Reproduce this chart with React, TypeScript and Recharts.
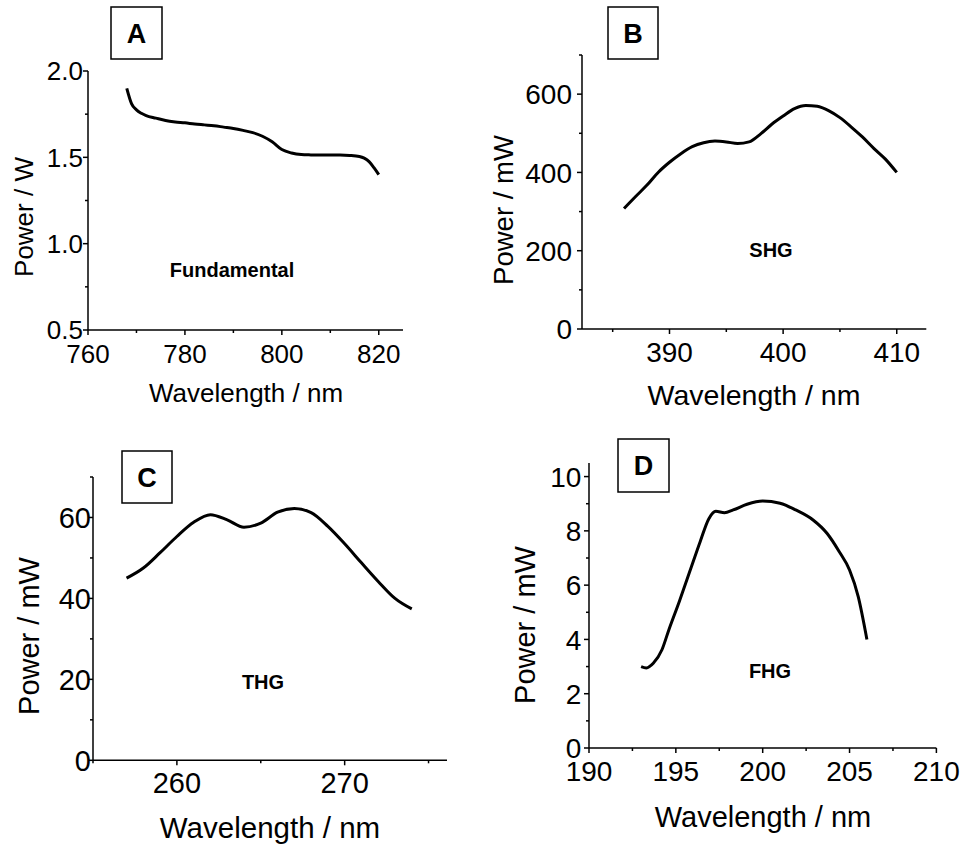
import React from "react"
import { LineChart, Line, XAxis, YAxis } from "recharts"

// Panel A - fundamental
const fundWl = [768, 769, 770, 771, 772, 774, 776, 778, 780, 782, 784, 786, 788, 790, 792, 794, 796, 798, 800, 802, 804, 806, 808, 810, 812, 814, 816, 817, 818, 819, 820]
const fundPower = [1.9, 1.81, 1.775, 1.755, 1.742, 1.727, 1.713, 1.705, 1.7, 1.693, 1.688, 1.683, 1.675, 1.667, 1.656, 1.643, 1.622, 1.59, 1.545, 1.525, 1.516, 1.514, 1.513, 1.513, 1.513, 1.511, 1.505, 1.495, 1.475, 1.44, 1.4]

// Panel B - SHG
const shgWl = [386, 387, 388, 389, 390, 391, 392, 393, 394, 395, 396, 397, 398, 399, 400, 401, 402, 403, 404, 405, 406, 407, 408, 409, 410]
const shgPower = [308, 338, 367, 400, 426, 448, 466, 476, 480, 478, 474, 478, 498, 523, 544, 563, 571, 569, 558, 540, 516, 490, 461, 434, 400]

// Panel C - THG
const thgWl = [257, 258, 259, 260, 261, 262, 263, 264, 265, 266, 267, 268, 269, 270, 271, 272, 273, 274]
const thgPower = [45, 47.5, 51.3, 55.3, 58.8, 60.7, 59.4, 57.6, 58.6, 61.3, 62.2, 61.2, 57.8, 53.5, 48.8, 44.2, 40, 37.4]

// Panel D - FHG
const fhgWl = [193, 193.3, 193.7, 194.2, 194.6, 195.2, 195.8, 196.4, 196.9, 197.3, 197.8, 198.3, 199.1, 200, 201, 201.9, 202.9, 203.7, 204.4, 205, 205.5, 206]
const fhgPower = [3.0, 2.95, 3.12, 3.62, 4.36, 5.4, 6.5, 7.6, 8.45, 8.72, 8.67, 8.77, 8.98, 9.1, 9.02, 8.77, 8.4, 7.91, 7.24, 6.56, 5.58, 4.0]

const FONT = '"Liberation Sans", Arial, Helvetica, sans-serif'

const zip = (xs: number[], ys: number[]) => xs.map((x, i) => ({ wl: x, p: ys[i] }))

type Cfg = {
  data: { wl: number; p: number }[]
  box: [number, number, number, number]
  xDomain: [number, number]
  yDomain: [number, number]
  xMajor: number[]
  xMinor: number[]
  yMajor: number[]
  yMinor: number[]
  fs: number
  yGap: number
  yFmt: (v: number) => string
}

const panels: Cfg[] = [
  {
    data: zip(fundWl, fundPower),
    box: [88, 71, 403, 330],
    xDomain: [760, 825],
    yDomain: [0.5, 2.0],
    xMajor: [760, 780, 800, 820],
    xMinor: [770, 790, 810],
    yMajor: [0.5, 1.0, 1.5, 2.0],
    yMinor: [0.75, 1.25, 1.75],
    fs: 26,
    yGap: 5,
    yFmt: (v) => v.toFixed(1),
  },
  {
    data: zip(shgWl, shgPower),
    box: [581.7, 55, 926, 329],
    xDomain: [382.3, 412.6],
    yDomain: [0, 700],
    xMajor: [390, 400, 410],
    xMinor: [385, 395, 405],
    yMajor: [0, 200, 400, 600],
    yMinor: [100, 300, 500, 700],
    fs: 28,
    yGap: 10,
    yFmt: (v) => String(v),
  },
  {
    data: zip(thgWl, thgPower),
    box: [93.3, 476.7, 447.3, 760],
    xDomain: [255, 276.1],
    yDomain: [0, 70],
    xMajor: [260, 270],
    xMinor: [255, 265, 275],
    yMajor: [0, 20, 40, 60],
    yMinor: [10, 30, 50, 70],
    fs: 29,
    yGap: 2,
    yFmt: (v) => String(v),
  },
  {
    data: zip(fhgWl, fhgPower),
    box: [589.3, 463.3, 936.7, 748.3],
    xDomain: [190, 210],
    yDomain: [0, 10.5],
    xMajor: [190, 195, 200, 205, 210],
    xMinor: [192.5, 197.5, 202.5, 207.5],
    yMajor: [0, 2, 4, 6, 8, 10],
    yMinor: [1, 3, 5, 7, 9],
    fs: 28,
    yGap: 7.6,
    yFmt: (v) => String(v),
  },
]

const YW = 80
const MT = 30
const MR = 40
const XH = 60

function Panel({ cfg }: { cfg: Cfg }) {
  const [x0, y0, x1, y1] = cfg.box
  const w = YW + (x1 - x0) + MR
  const h = MT + (y1 - y0) + XH

  const xTick = (p: any) => {
    const v = p.payload.value
    const major = cfg.xMajor.includes(v)
    return (
      <g>
        <line x1={p.x} y1={p.y} x2={p.x} y2={p.y + (major ? 5 : 3)} stroke="#000" strokeWidth={1.5} />
        {major && (
          <text x={p.x} y={p.y + 33} textAnchor="middle" fontSize={cfg.fs} fontFamily={FONT} fill="#000">
            {v}
          </text>
        )}
      </g>
    )
  }

  const yTick = (p: any) => {
    const v = p.payload.value
    const major = cfg.yMajor.includes(v)
    return (
      <g>
        <line x1={p.x - (major ? 5 : 3)} y1={p.y} x2={p.x} y2={p.y} stroke="#000" strokeWidth={1.5} />
        {major && (
          <text x={p.x - cfg.yGap} y={p.y} dy="0.36em" textAnchor="end" fontSize={cfg.fs} fontFamily={FONT} fill="#000">
            {cfg.yFmt(v)}
          </text>
        )}
      </g>
    )
  }

  return (
    <div style={{ position: "absolute", left: x0 - YW, top: y0 - MT }}>
      <LineChart width={w} height={h} data={cfg.data} margin={{ top: MT, right: MR, left: 0, bottom: 0 }}>
        <XAxis
          dataKey="wl"
          type="number"
          domain={cfg.xDomain}
          allowDataOverflow
          ticks={[...cfg.xMajor, ...cfg.xMinor].sort((a, b) => a - b)}
          interval={0}
          height={XH}
          tickSize={0}
          tickMargin={0}
          tickLine={false}
          axisLine={{ stroke: "#000", strokeWidth: 1.5 }}
          tick={xTick}
        />
        <YAxis
          type="number"
          domain={cfg.yDomain}
          allowDataOverflow
          ticks={[...cfg.yMajor, ...cfg.yMinor].sort((a, b) => a - b)}
          interval={0}
          width={YW}
          tickSize={0}
          tickMargin={0}
          tickLine={false}
          axisLine={{ stroke: "#000", strokeWidth: 1.5 }}
          tick={yTick}
        />
        <Line
          type="monotone"
          dataKey="p"
          stroke="#000"
          strokeWidth={3}
          dot={false}
          activeDot={false}
          isAnimationActive={false}
        />
      </LineChart>
    </div>
  )
}

const letterBoxes = [
  { t: "A", x: 111, y: 7, w: 51, h: 52 },
  { t: "B", x: 608, y: 7, w: 50, h: 52 },
  { t: "C", x: 122, y: 451, w: 50, h: 52 },
  { t: "D", x: 618, y: 439, w: 51, h: 53 },
]

const notes = [
  { t: "Fundamental", x: 232, y: 277 },
  { t: "SHG", x: 771, y: 257 },
  { t: "THG", x: 263, y: 689 },
  { t: "FHG", x: 770, y: 678 },
]

const xTitles = [
  { x: 246, y: 402, fs: 26 },
  { x: 754, y: 405, fs: 28.5 },
  { x: 270, y: 838, fs: 29.5 },
  { x: 763, y: 827, fs: 29 },
]

const yTitles = [
  { t: "Power / W", x: 33, y: 217, fs: 26 },
  { t: "Power / mW", x: 513, y: 210, fs: 27.5 },
  { t: "Power / mW", x: 39, y: 636, fs: 29 },
  { t: "Power / mW", x: 535, y: 625, fs: 29 },
]

export default function App() {
  return (
    <div style={{ position: "absolute", left: 0, top: 0, width: 964, height: 847, background: "#fff", fontFamily: FONT }}>
      {panels.map((c, i) => (
        <Panel key={i} cfg={c} />
      ))}
      <svg width={964} height={847} style={{ position: "absolute", left: 0, top: 0, pointerEvents: "none" }}>
        {letterBoxes.map((b) => (
          <g key={b.t}>
            <rect x={b.x} y={b.y} width={b.w} height={b.h} fill="#fff" stroke="#000" strokeWidth={1.5} />
            <text x={b.x + b.w / 2} y={b.y + b.h / 2} dy="0.36em" textAnchor="middle" fontSize={27} fontWeight="bold" fontFamily={FONT}>
              {b.t}
            </text>
          </g>
        ))}
        {notes.map((n) => (
          <text key={n.t} x={n.x} y={n.y} textAnchor="middle" fontSize={20} fontWeight="bold" fontFamily={FONT}>
            {n.t}
          </text>
        ))}
        {xTitles.map((t, i) => (
          <text key={i} x={t.x} y={t.y} textAnchor="middle" fontSize={t.fs} fontFamily={FONT}>
            Wavelength / nm
          </text>
        ))}
        {yTitles.map((t, i) => (
          <text key={i} x={t.x} y={t.y} textAnchor="middle" fontSize={t.fs} fontFamily={FONT} transform={`rotate(-90 ${t.x} ${t.y})`}>
            {t.t}
          </text>
        ))}
      </svg>
    </div>
  )
}
